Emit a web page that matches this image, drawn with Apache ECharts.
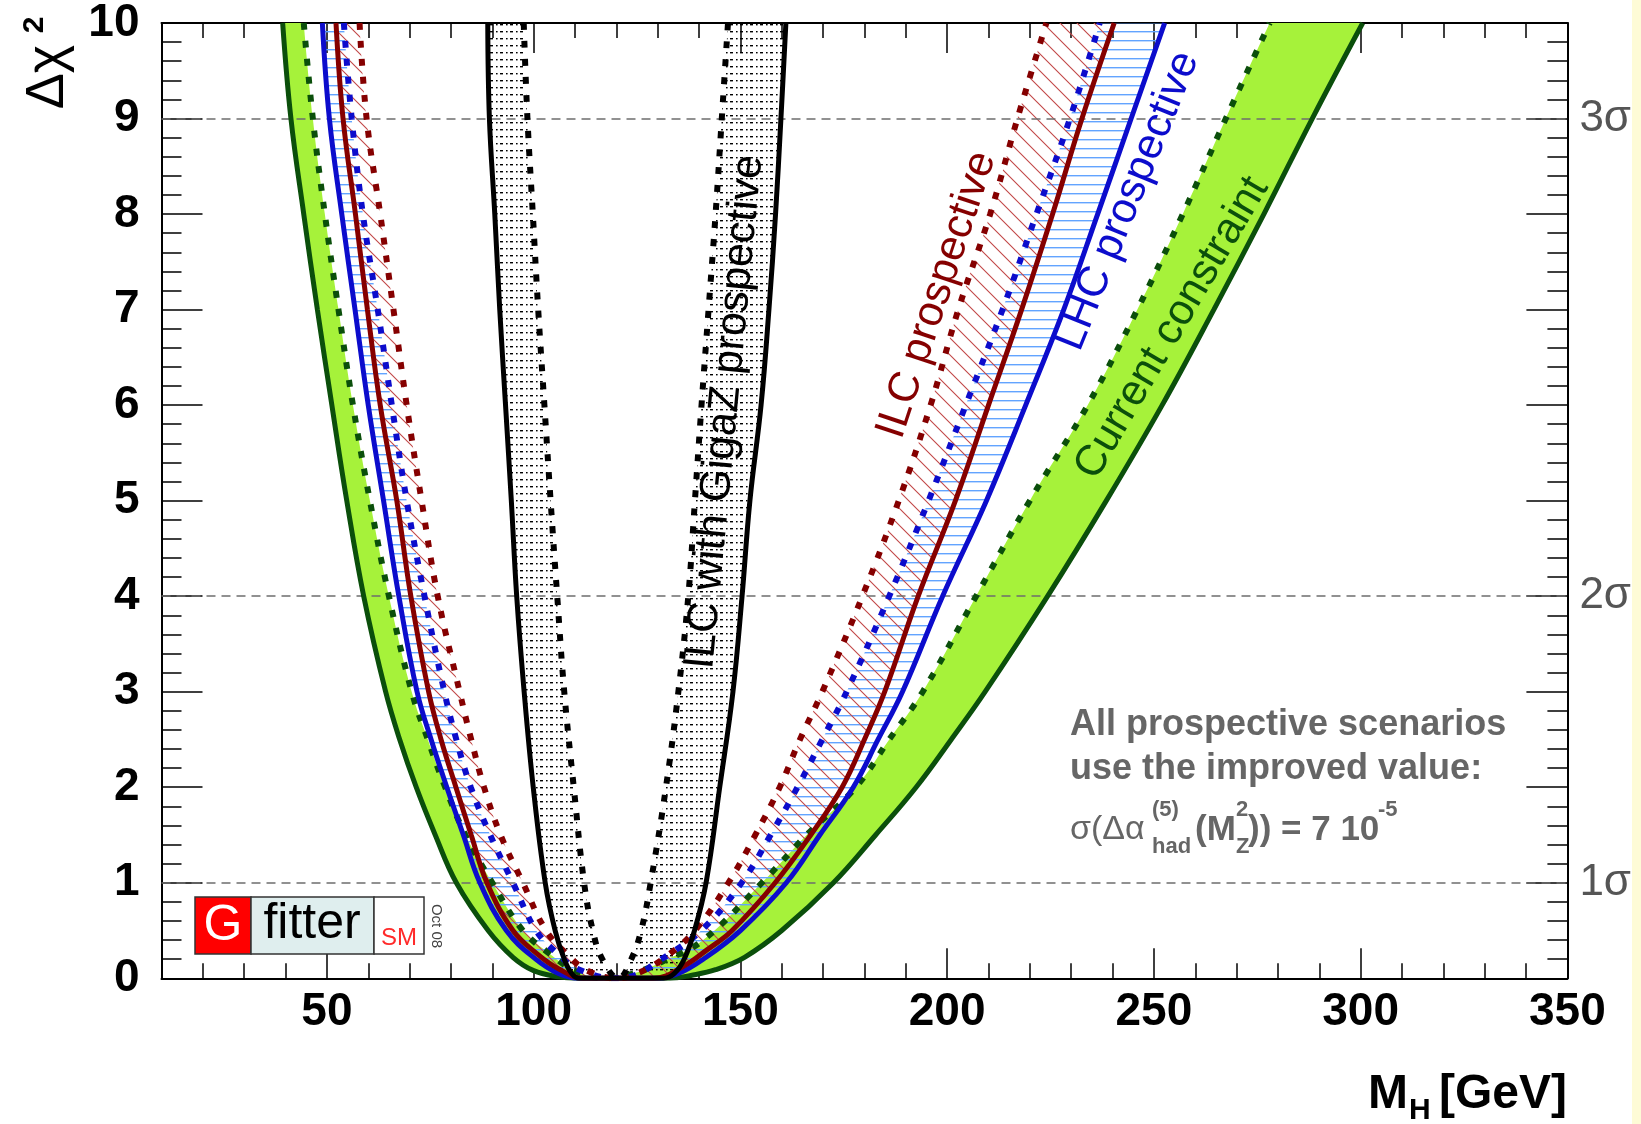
<!DOCTYPE html>
<html><head><meta charset="utf-8">
<script src="https://cdn.jsdelivr.net/npm/echarts@6/dist/echarts.min.js"></script>
<style>html,body{margin:0;padding:0;background:#fff;}#c{width:1641px;height:1124px;}</style>
</head><body><div id="c"></div>
<script>
// ---- axis ticks / labels ----
const X_TICK_LABELS = [50, 100, 150, 200, 250, 300, 350];
const X_MINOR_TICKS = [20,30,40,60,70,80,90,110,120,130,140,160,170,180,190,210,220,230,240,260,270,280,290,310,320,330,340];
const SIGMA_LEVELS = [1, 4, 9];
const SIGMA_LABELS = ['1σ', '2σ', '3σ'];

// ---- curves: [M_H, Δχ²] from left top, down to minimum, up to right top ----
// Current constraint (solid = outer, dotted = inner)
const CURRENT_SOLID = [[39.3,10],[41.3,9],[44.4,8],[47.7,7],[51.2,6],[54.8,5],[58.9,4],[64.2,3],[67.6,2.5],[71.6,2],[76.2,1.5],[81.3,1],[89,0.5],[95,0.22],[100,0.08],[106,0.015],[110,0],
  [133,0],[138,0.03],[144,0.09],[151,0.22],[160,0.5],[172.5,1],[182.7,1.5],[192.5,2],[201,2.5],[209.2,3],[224.3,4],[238.5,5],[252,6],[264.5,7],[276.6,8],[288.3,9],[300.5,10]];
const CURRENT_DOTTED = [[44.4,10],[46.6,9],[49.5,8],[52.8,7],[56.3,6],[60.4,5],[65,4],[70.5,3],[74.4,2.5],[78.6,2],[83.5,1.5],[90,1],[97.4,0.5],[103.8,0.26],[110,0.08],[117,0],
  [124,0.05],[131.9,0.19],[141,0.4],[155.2,1],[166,1.5],[177.9,2],[186,2.5],[194.1,3],[207,4],[220,5],[234,6],[246,7],[257,8],[267.4,9],[278,10]];
// LHC prospective
const LHC_SOLID = [[48.9,10],[50.6,9],[53.6,8],[56.8,7],[60,6],[63.7,5],[67.4,4],[71.8,3],[75.2,2.5],[79,2],[83,1.5],[87,1],[93.4,0.5],[100.5,0.2],[106,0.05],[111,0],
  [130,0],[135,0.05],[141,0.2],[150,0.5],[161.1,1],[169.2,1.5],[177.3,2],[183.3,2.5],[189.2,3],[198.9,4],[209.5,5],[219,6],[228.2,7],[236.4,8],[244.5,9],[252.6,10]];
const LHC_DOTTED = [[54.1,10],[56,9],[58.7,8],[62.3,7],[65.7,6],[69.3,5],[73.6,4],[78.4,3],[81.3,2.5],[84.8,2],[89.5,1.5],[95,1],[100.6,0.5],[106,0.25],[110.5,0.1],[120,0],
  [125,0.04],[129.5,0.16],[140.5,0.5],[150.3,1],[157.3,1.5],[163.8,2],[169.8,2.5],[175.7,3],[186,4],[195.5,5],[204.5,6],[213.4,7],[221.6,8],[229.7,9],[236.9,10]];
// ILC prospective
const ILC_SOLID = [[52.2,10],[53.9,9],[56.9,8],[59.8,7],[62.9,6],[66.9,5],[70.3,4],[74.6,3],[77.6,2.5],[81.2,2],[84.9,1.5],[88.7,1],[95,0.5],[101,0.25],[106,0.1],[112,0],
  [129,0],[136,0.12],[142,0.3],[148,0.5],[158.4,1],[167,1.5],[174.6,2],[180,2.5],[184.9,3],[193,4],[202,5],[210,6],[218,7],[225.5,8],[232.6,9],[240.4,10]];
const ILC_DOTTED = [[57.9,10],[59.6,9],[62.9,8],[66.1,7],[69.3,6],[72.9,5],[76.8,4],[82.1,3],[84.9,2.5],[88,2],[92,1.5],[97.4,1],[103,0.5],[108.6,0.23],[113,0.08],[120,0],
  [125,0.05],[131.5,0.21],[139,0.5],[147.1,1],[153.6,1.5],[159.5,2],[164.4,2.5],[169.8,3],[179.5,4],[188.3,5],[196,6],[202.7,7],[210.4,8],[217,9],[224,10]];
// ILC with GigaZ prospective
const GIGAZ_SOLID = [[88.9,10],[89.3,9],[90.6,8],[91.8,7],[93.2,6],[94.6,5],[95.9,4],[97.7,3],[99.9,2],[102.8,1],[105.2,0.5],[107.4,0.2],[109.2,0.05],[111,0],
  [131.5,0],[134,0.05],[136.4,0.2],[138.9,0.5],[141.7,1],[145,2],[148.2,3],[150.4,4],[152.3,5],[155,6],[156.9,7],[158.5,8],[159.8,9],[161,10]];
const GIGAZ_DOTTED = [[97.6,10],[98.5,9],[99.8,8],[101.1,7],[102.6,6],[104.1,5],[105.7,4],[107.4,3],[109.7,2],[112.2,1],[114.3,0.5],[116.6,0.2],[120.5,0],
  [123.6,0.2],[126,0.5],[128.3,1],[132,2],[135,3],[137.4,4],[139,5],[140.6,6],[142.3,7],[144,8],[145.5,9],[147,10]];

const FONT = "'Liberation Sans', Arial, Helvetica, sans-serif";
const NARROW = "'Liberation Sans Narrow', 'Arial Narrow', 'Liberation Sans', sans-serif";
const GREEN = '#0b4f0b', LIME = '#a6f23a', BLUE = '#0c0ccc', RED = '#850000';
const SMOOTH = 0.4;

function makePattern(w, h, draw) {
  const c = document.createElement('canvas'); c.width = w; c.height = h;
  const g = c.getContext('2d'); draw(g, w, h);
  return { image: c, repeat: 'repeat' };
}
const hatchBlue = makePattern(8, 9, g => { g.fillStyle = '#62a4ff'; g.fillRect(0, 4, 8, 1.4); });
const hatchRed = makePattern(17, 17, g => {
  g.strokeStyle = '#c24848'; g.lineWidth = 1.1; g.beginPath();
  g.moveTo(-2, -2); g.lineTo(19, 19); g.moveTo(-2, 15); g.lineTo(2, 19); g.moveTo(15, -2); g.lineTo(19, 2); g.stroke();
});
const dotFill = makePattern(10, 7, g => { g.fillStyle = '#000'; g.fillRect(0, 3, 3, 1.4); g.fillRect(6, 3, 1.6, 1.4); });

// Same cubic smoothing as the line series uses, so the fills follow the drawn curves
function smoothPath(P, smooth, first) {
  let d = '';
  let prevX, prevY, cpx0, cpy0;
  const n = P.length;
  for (let i = 0; i < n; i++) {
    const x = P[i][0], y = P[i][1];
    if (i === 0) { d += (first ? 'M' : 'L') + x + ' ' + y + ' '; cpx0 = x; cpy0 = y; prevX = x; prevY = y; continue; }
    const ddx = x - prevX, ddy = y - prevY;
    if (ddx * ddx + ddy * ddy < 0.5) continue;
    let cpx1, cpy1, nx0, ny0;
    if (i + 1 >= n) { cpx1 = x; cpy1 = y; }
    else {
      const nextX = P[i + 1][0], nextY = P[i + 1][1];
      let vx = nextX - prevX, vy = nextY - prevY;
      const lenPrev = Math.hypot(x - prevX, y - prevY), lenNext = Math.hypot(nextX - x, nextY - y) || 1e-6;
      const ratio = lenNext / (lenNext + lenPrev);
      nx0 = x + vx * smooth * ratio; ny0 = y + vy * smooth * ratio;
      nx0 = Math.min(nx0, Math.max(nextX, x)); ny0 = Math.min(ny0, Math.max(nextY, y));
      nx0 = Math.max(nx0, Math.min(nextX, x)); ny0 = Math.max(ny0, Math.min(nextY, y));
      vx = nx0 - x; vy = ny0 - y;
      cpx1 = x - vx * lenPrev / lenNext; cpy1 = y - vy * lenPrev / lenNext;
      cpx1 = Math.min(cpx1, Math.max(prevX, x)); cpy1 = Math.min(cpy1, Math.max(prevY, y));
      cpx1 = Math.max(cpx1, Math.min(prevX, x)); cpy1 = Math.max(cpy1, Math.min(prevY, y));
      vx = x - cpx1; vy = y - cpy1;
      nx0 = x + vx * lenNext / lenPrev; ny0 = y + vy * lenNext / lenPrev;
    }
    d += 'C' + cpx0 + ' ' + cpy0 + ' ' + cpx1 + ' ' + cpy1 + ' ' + x + ' ' + y + ' ';
    cpx0 = nx0; cpy0 = ny0; prevX = x; prevY = y;
  }
  return d;
}

function band(outer, inner, fill, z) {
  return {
    type: 'custom', coordinateSystem: 'cartesian2d', clip: true, silent: true, z,
    data: [outer[0]],
    renderItem: (params, api) => {
      const po = outer.map(p => api.coord(p));
      const pi = inner.slice().reverse().map(p => api.coord(p));
      const d = smoothPath(po, SMOOTH, true) + smoothPath(pi, SMOOTH, false) + 'Z';
      return { type: 'path', shape: { pathData: d }, style: { fill: fill, stroke: null } };
    }
  };
}
function curve(name, data, color, dotted, z, extra) {
  return Object.assign({
    type: 'line', name, data, smooth: SMOOTH, showSymbol: false, symbol: 'none', silent: true, z,
    lineStyle: { color, width: dotted ? 6 : 5, type: dotted ? [7, 11] : 'solid', cap: 'butt' }
  }, extra || {});
}

const tickStyle = { color: '#000', width: 1.5 };
function xAx(pos, major, showLine, showLabel) {
  return {
    type: 'value', min: 10, max: 350, position: pos,
    axisLine: { show: showLine, onZero: false, lineStyle: { color: '#000', width: 2 } },
    axisTick: { show: true, inside: true, length: major ? 30 : 15, customValues: major ? X_TICK_LABELS : X_MINOR_TICKS, lineStyle: tickStyle },
    axisLabel: { show: showLabel, customValues: X_TICK_LABELS, showMaxLabel: true, fontSize: 46, fontWeight: 'bold', fontFamily: NARROW, color: '#000', margin: 11 },
    splitLine: { show: false }
  };
}
function yAx(pos, showLabel) {
  return {
    type: 'value', min: 0, max: 10, interval: 1, position: pos,
    axisLine: { show: true, onZero: false, lineStyle: { color: '#000', width: 2 } },
    axisTick: { show: true, inside: true, length: 41, lineStyle: tickStyle },
    minorTick: { show: true, splitNumber: 5, length: 20, lineStyle: tickStyle },
    axisLabel: { show: showLabel, fontSize: 46, fontWeight: 'bold', fontFamily: NARROW, color: '#000', margin: 22 },
    splitLine: { show: false }, minorSplitLine: { show: false }
  };
}

function txt(text, x, y, font, fill, align, vAlign, rotation) {
  return { type: 'text', x, y, rotation: rotation || 0, silent: true, z: 100,
    style: { text, x: 0, y: 0, font, fill, align: align || 'left', verticalAlign: vAlign || 'middle', textAlign: align || 'left', textVerticalAlign: vAlign || 'middle' } };
}
const deg = Math.PI / 180;

const chart = echarts.init(document.getElementById('c'), null, { renderer: 'canvas' });
chart.setOption({
  animation: false,
  backgroundColor: '#fff',
  grid: { left: 161.5, right: 73.6, top: 22.5, bottom: 145.7, containLabel: false },
  xAxis: [xAx('bottom', true, true, true), xAx('bottom', false, false, false), xAx('top', true, true, false), xAx('top', false, false, false)],
  yAxis: [yAx('left', true), yAx('right', false)],
  series: [
    band(CURRENT_SOLID, CURRENT_DOTTED, LIME, 1),
    band(LHC_SOLID, LHC_DOTTED, hatchBlue, 2),
    band(ILC_SOLID, ILC_DOTTED, hatchRed, 3),
    band(GIGAZ_SOLID, GIGAZ_DOTTED, dotFill, 4),
    curve('Current constraint (no theory)', CURRENT_DOTTED, GREEN, true, 5, {
      markLine: {
        silent: true, symbol: 'none', animation: false,
        lineStyle: { color: '#6e6e6e', type: [9, 6], width: 1.5 },
        label: { show: true, position: 'end', distance: 12, fontSize: 44, fontFamily: FONT, color: '#555' },
        data: SIGMA_LEVELS.map((v, i) => ({ yAxis: v, label: { formatter: SIGMA_LABELS[i] } }))
      }
    }),
    curve('Current constraint', CURRENT_SOLID, GREEN, false, 6),
    curve('LHC prospective (no theory)', LHC_DOTTED, BLUE, true, 7),
    curve('LHC prospective', LHC_SOLID, BLUE, false, 8),
    curve('ILC prospective (no theory)', ILC_DOTTED, RED, true, 9),
    curve('ILC prospective', ILC_SOLID, RED, false, 10),
    curve('ILC with GigaZ (no theory)', GIGAZ_DOTTED, '#000', true, 11),
    curve('ILC with GigaZ', GIGAZ_SOLID, '#000', false, 12)
  ],
  graphic: [
    { type: 'rect', shape: { x: 1632, y: 0, width: 9, height: 1124 }, style: { fill: '#fefbd6' }, silent: true },
    // axis titles
    txt('Δχ', 48, 77, '54px ' + FONT, '#000', 'center', 'middle', 90 * deg),
    txt('2', 35, 25, 'bold 30px ' + FONT, '#000', 'center', 'middle', 90 * deg),
    txt('[GeV]', 1567, 1095, 'bold 48px ' + FONT, '#000', 'right', 'middle'),
    txt('M', 1408, 1095, 'bold 48px ' + FONT, '#000', 'right', 'middle'),
    txt('H', 1409, 1111, 'bold 30px ' + FONT, '#000', 'left', 'middle'),
    // curve labels
    txt('ILC with GigaZ prospective', 725, 412, '43px ' + FONT, '#000', 'center', 'middle', 84.5 * deg),
    txt('ILC prospective', 937, 295, '43px ' + FONT, RED, 'center', 'middle', 71.7 * deg),
    txt('LHC prospective', 1128, 201, '43px ' + FONT, BLUE, 'center', 'middle', 68 * deg),
    txt('Current constraint', 1172, 328, '43px ' + FONT, GREEN, 'center', 'middle', 59.6 * deg),
    // annotation
    txt('All prospective scenarios', 1070, 725, 'bold 36px ' + FONT, '#666', 'left', 'middle'),
    txt('use the improved value:', 1070, 769, 'bold 36px ' + FONT, '#666', 'left', 'middle'),
    txt('σ(Δα', 1070, 830, '34px ' + FONT, '#666', 'left', 'middle'),
    txt('(5)', 1152, 810, 'bold 22px ' + FONT, '#666', 'left', 'middle'),
    txt('had', 1152, 847, 'bold 22px ' + FONT, '#666', 'left', 'middle'),
    txt('(M', 1195, 830, 'bold 35px ' + FONT, '#666', 'left', 'middle'),
    txt('2', 1236, 810, 'bold 22px ' + FONT, '#666', 'left', 'middle'),
    txt('Z', 1236, 847, 'bold 22px ' + FONT, '#666', 'left', 'middle'),
    txt(')) = 7 10', 1248, 830, 'bold 35px ' + FONT, '#666', 'left', 'middle'),
    txt('-5', 1378, 810, 'bold 22px ' + FONT, '#666', 'left', 'middle'),
    // Gfitter logo
    { type: 'rect', shape: { x: 195, y: 897, width: 56, height: 57 }, style: { fill: '#ff0000', stroke: '#333', lineWidth: 1.5 }, silent: true, z: 100 },
    { type: 'rect', shape: { x: 251, y: 897, width: 123, height: 57 }, style: { fill: '#dfeeee', stroke: '#333', lineWidth: 1.5 }, silent: true, z: 100 },
    { type: 'rect', shape: { x: 374, y: 897, width: 50, height: 57 }, style: { fill: '#ffffff', stroke: '#333', lineWidth: 1.5 }, silent: true, z: 100 },
    txt('G', 223, 926, '50px ' + FONT, '#fff', 'center', 'middle'),
    txt('fitter', 312, 924, '50px ' + FONT, '#000', 'center', 'middle'),
    txt('SM', 399, 938, '24px ' + FONT, '#ff2a2a', 'center', 'middle'),
    txt('Oct 08', 436, 926, '15px ' + FONT, '#444', 'center', 'middle', -90 * deg)
  ]
});
</script></body></html>
